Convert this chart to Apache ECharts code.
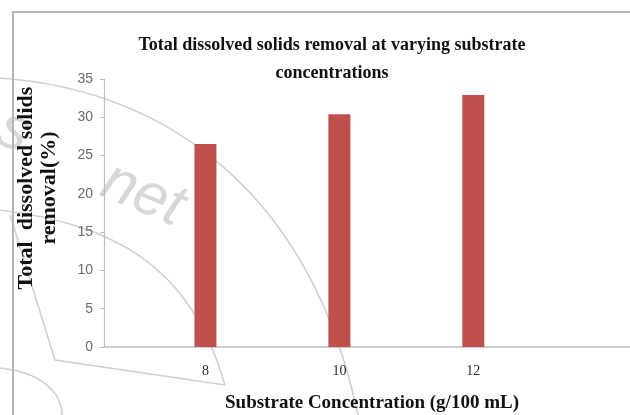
<!DOCTYPE html>
<html>
<head>
<meta charset="utf-8">
<script src="https://cdn.jsdelivr.net/npm/echarts@6/dist/echarts.min.js"></script>
<style>
  html, body { margin: 0; padding: 0; background: #ffffff; }
  #chart { width: 630px; height: 415px; }
</style>
</head>
<body>
<div id="chart"></div>
<script>
// Substrate concentration (g/100 mL) and TDS removal (%)
const concentrations = [8, 10, 12];
const tdsRemoval = [26.5, 30.4, 32.9];
const yTicks = [0, 5, 10, 15, 20, 25, 30, 35];

const titleText = 'Total dissolved solids removal at varying substrate\nconcentrations';
const xTitle = 'Substrate Concentration (g/100 mL)';
const yTitle = 'Total  dissolved solids\nremoval(%)';

const serif = '"Liberation Serif", "DejaVu Serif", serif';
const faint = '#d0d0d0';

const chart = echarts.init(document.getElementById('chart'), null, { renderer: 'canvas' });

chart.setOption({
  backgroundColor: '#ffffff',
  animation: false,
  title: {
    text: titleText,
    left: 327,
    top: 26,
    textAlign: 'center',
    textStyle: {
      fontFamily: serif,
      fontWeight: 'bold',
      fontSize: 18,
      lineHeight: 28,
      color: '#111111'
    }
  },
  grid: { left: 104, right: 0, top: 79, bottom: 68, containLabel: false },
  xAxis: {
    type: 'value',
    min: 6.485,
    max: 14.34,
    splitLine: { show: false },
    axisLine: { show: true, lineStyle: { color: '#bdbdbd', width: 1.5 } },
    axisTick: { show: false },
    axisLabel: {
      customValues: concentrations,
      margin: 17,
      fontFamily: serif,
      fontSize: 14,
      color: '#2a2a2a'
    }
  },
  yAxis: {
    type: 'value',
    min: yTicks[0],
    max: yTicks[yTicks.length - 1],
    interval: 5,
    splitLine: { show: false },
    axisLine: { show: true, lineStyle: { color: '#bdbdbd', width: 1.2 } },
    axisTick: { show: true, length: 4, lineStyle: { color: '#bdbdbd' } },
    axisLabel: {
      margin: 11,
      fontFamily: '"Liberation Sans", Arial, sans-serif',
      fontSize: 14,
      color: '#6a6a6a'
    }
  },
  series: [{
    type: 'bar',
    data: concentrations.map((c, i) => [c, tdsRemoval[i]]),
    barWidth: 22,
    itemStyle: { color: '#c0504d' },
    z: 5
  }],
  graphic: [
    // faint watermark strokes behind the plot
    { type: 'bezierCurve', z: -10, silent: true,
      shape: { x1: 0, y1: 78, cpx1: 165, cpy1: 90, cpx2: 310, cpy2: 190, x2: 358, y2: 415 },
      style: { stroke: faint, lineWidth: 1.6, fill: null } },
    { type: 'bezierCurve', z: -10, silent: true,
      shape: { x1: 0, y1: 210, cpx1: 110, cpy1: 224, cpx2: 190, cpy2: 262, x2: 225, y2: 385 },
      style: { stroke: faint, lineWidth: 1.6, fill: null } },
    { type: 'polyline', z: -10, silent: true,
      shape: { points: [[10, 215], [55, 360], [225, 385]] },
      style: { stroke: faint, lineWidth: 1.6, fill: null } },
    { type: 'bezierCurve', z: -10, silent: true,
      shape: { x1: 0, y1: 368, cpx1: 40, cpy1: 372, cpx2: 62, cpy2: 392, x2: 62, y2: 415 },
      style: { stroke: faint, lineWidth: 1.6, fill: null } },
    { type: 'text', z: -10, silent: true, x: 143, y: 195, rotation: -0.4,
      style: { text: 'net', fontSize: 60, fontStyle: 'italic',
               fontFamily: '"Liberation Sans", Arial, sans-serif',
               fill: '#d8d8d8', textAlign: 'center', textVerticalAlign: 'middle',
               align: 'center', verticalAlign: 'middle' } },
    { type: 'text', z: -10, silent: true, x: 14, y: 132, rotation: -0.4,
      style: { text: 's', fontSize: 60, fontStyle: 'italic',
               fontFamily: '"Liberation Sans", Arial, sans-serif',
               fill: '#d8d8d8', textAlign: 'center', textVerticalAlign: 'middle',
               align: 'center', verticalAlign: 'middle' } },
    // frame of the chart area
    { type: 'polyline', z: 10, silent: true,
      shape: { points: [[13, 420], [13, 12], [640, 12]] },
      style: { stroke: '#b4b4b4', lineWidth: 2, fill: null } },
    // axis titles
    { type: 'text', z: 10, silent: true, x: 372, y: 403,
      style: { text: xTitle, fontFamily: serif, fontWeight: 'bold', fontSize: 19,
               fill: '#111111', textAlign: 'center', textVerticalAlign: 'middle',
               align: 'center', verticalAlign: 'middle' } },
    { type: 'text', z: 10, silent: true, x: 38, y: 188, rotation: Math.PI / 2,
      style: { text: yTitle, fontFamily: serif, fontWeight: 'bold', fontSize: 22,
               lineHeight: 23, fill: '#111111', textAlign: 'center', textVerticalAlign: 'middle',
               align: 'center', verticalAlign: 'middle' } }
  ]
});
</script>
</body>
</html>
